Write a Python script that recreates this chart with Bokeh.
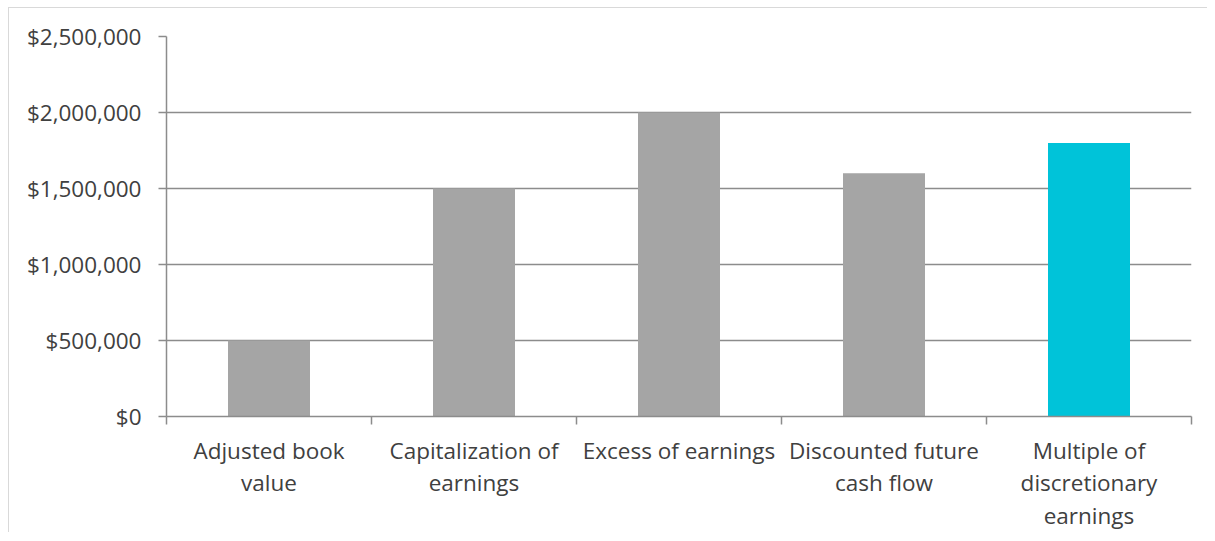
from bokeh.plotting import figure
from bokeh.models import Range1d, FixedTicker, NumeralTickFormatter
from bokeh.embed import file_html
from bokeh.resources import INLINE

categories = ["Adjusted book\nvalue", "Capitalization of\nearnings", "Excess of earnings",
              "Discounted future\ncash flow", "Multiple of\ndiscretionary\nearnings"]
values = [500000, 1500000, 2000000, 1600000, 1800000]
colors = ["#a5a5a5", "#a5a5a5", "#a5a5a5", "#a5a5a5", "#00c3d9"]
y_ticks = [0, 500000, 1000000, 1500000, 2000000, 2500000]

FONT = "Open Sans"
TXT = "#404040"
GRID = "#8c8c8c"

p = figure(width=1199, height=525, output_backend="svg", toolbar_location=None,
           x_range=Range1d(0, len(categories)), y_range=Range1d(0, 2500000),
           min_border_left=157, min_border_right=17, min_border_top=28, min_border_bottom=115)
p.styles = {"margin-left": "8px", "margin-top": "7px",
            "border-top": "1px solid #d9d9d9", "border-left": "1px solid #d9d9d9"}

xs = [i + 0.5 for i in range(len(categories))]
p.vbar(x=xs, top=values, width=0.4, color=colors, line_color=None)

p.outline_line_color = None
p.xgrid.grid_line_color = None
p.ygrid.ticker = FixedTicker(ticks=y_ticks)
p.ygrid.grid_line_color = GRID
p.ygrid.grid_line_width = 1.5

p.yaxis.ticker = FixedTicker(ticks=y_ticks)
p.yaxis.formatter = NumeralTickFormatter(format="$0,0")
p.yaxis.axis_line_color = GRID
p.yaxis.axis_line_width = 1.5
p.yaxis.major_tick_line_color = GRID
p.yaxis.major_tick_line_width = 1.5
p.yaxis.major_tick_out = 8
p.yaxis.major_tick_in = 0
p.yaxis.minor_tick_line_color = None
p.yaxis.major_label_standoff = 17
p.yaxis.major_label_text_font = FONT
p.yaxis.major_label_text_font_size = "22.5px"
p.yaxis.major_label_text_color = TXT

p.xaxis.ticker = FixedTicker(ticks=xs, minor_ticks=list(range(len(categories) + 1)))
p.xaxis.major_label_overrides = {x: c for x, c in zip(xs, categories)}
p.xaxis.axis_line_color = GRID
p.xaxis.axis_line_width = 1.5
p.xaxis.major_tick_line_color = None
p.xaxis.minor_tick_line_color = GRID
p.xaxis.minor_tick_line_width = 1.5
p.xaxis.minor_tick_out = 8
p.xaxis.minor_tick_in = 0
p.xaxis.major_label_standoff = 10
p.xaxis.major_label_text_font = FONT
p.xaxis.major_label_text_font_size = "22.5px"
p.xaxis.major_label_text_color = TXT
p.xaxis.major_label_text_line_height = 1.05

open("out.html", "w").write(file_html(p, INLINE))
